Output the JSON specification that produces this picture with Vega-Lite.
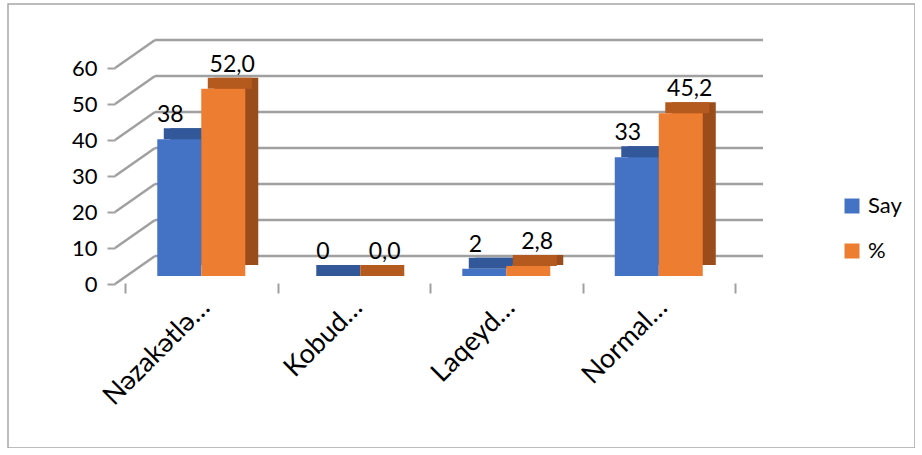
{
  "$schema": "https://vega.github.io/schema/vega-lite/v6.json",
  "width": 907,
  "height": 444,
  "autosize": {"type": "none"},
  "padding": {"left": 8, "top": 4, "right": 0, "bottom": 0},
  "background": "white",
  "config": {"view": {"stroke": "#a6a6a6", "strokeWidth": 1.5}, "font": "Lato"},
  "resolve": {"scale": {"xOffset": "independent"}},
  "datasets": {
    "main": [
      {"cat": "Nəzakətlə…", "series": "Say", "value": 38, "label": "38"},
      {"cat": "Nəzakətlə…", "series": "%", "value": 52.0, "label": "52,0"},
      {"cat": "Kobud…", "series": "Say", "value": 0, "label": "0"},
      {"cat": "Kobud…", "series": "%", "value": 0, "label": "0,0"},
      {"cat": "Laqeyd…", "series": "Say", "value": 2, "label": "2"},
      {"cat": "Laqeyd…", "series": "%", "value": 2.8, "label": "2,8"},
      {"cat": "Normal…", "series": "Say", "value": 33, "label": "33"},
      {"cat": "Normal…", "series": "%", "value": 45.2, "label": "45,2"}
    ],
    "grid": [{"v": 0}, {"v": 10}, {"v": 20}, {"v": 30}, {"v": 40}, {"v": 50}, {"v": 60}]
  },
  "layer": [
    {
      "data": {"name": "grid"},
      "mark": {"type": "rule", "color": "#a0a0a0", "strokeWidth": 2.5, "xOffset": 30, "x2Offset": 28, "yOffset": -20},
      "encoding": {
        "x": {"datum": "Nəzakətlə…", "type": "nominal", "bandPosition": 0},
        "x2": {"datum": "Normal…", "bandPosition": 1},
        "y": {"field": "v", "type": "quantitative"}
      }
    },
    {
      "data": {"name": "grid"},
      "mark": {"type": "rule", "color": "#a0a0a0", "strokeWidth": 2.5, "xOffset": -10, "x2Offset": 30, "yOffset": 8, "y2Offset": -20},
      "encoding": {
        "x": {"datum": "Nəzakətlə…", "type": "nominal", "bandPosition": 0},
        "x2": {"datum": "Nəzakətlə…", "bandPosition": 0},
        "y": {"field": "v", "type": "quantitative"},
        "y2": {"field": "v"}
      }
    },
    {
      "mark": {"type": "rule", "color": "#a0a0a0", "strokeWidth": 2.5, "xOffset": -10, "x2Offset": -10, "yOffset": 7},
      "encoding": {
        "x": {"datum": "Nəzakətlə…", "type": "nominal", "bandPosition": 0},
        "x2": {"datum": "Normal…", "bandPosition": 1},
        "y": {"datum": 0, "type": "quantitative"}
      }
    },
    {
      "mark": {"type": "rule", "color": "#a0a0a0", "strokeWidth": 2.5, "xOffset": -10, "x2Offset": 28, "yOffset": 7, "y2Offset": -20},
      "encoding": {
        "x": {"datum": "Normal…", "type": "nominal", "bandPosition": 1},
        "x2": {"datum": "Normal…", "bandPosition": 1},
        "y": {"datum": 0, "type": "quantitative"},
        "y2": {"datum": 0}
      }
    },
    {
      "mark": {"type": "rule", "color": "#a0a0a0", "strokeWidth": 2.5, "xOffset": -10, "yOffset": 7, "y2Offset": 9},
      "encoding": {
        "x": {"datum": "Nəzakətlə…", "type": "nominal", "bandPosition": 0},
        "y": {"datum": 0, "type": "quantitative"},
        "y2": {"datum": 60}
      }
    },
    {
      "data": {"name": "main"},
      "mark": {"type": "bar", "yOffset": -11, "y2Offset": -11},
      "encoding": {
        "x": {"field": "cat", "type": "nominal", "sort": null},
        "xOffset": {"field": "series", "type": "nominal", "scale": {"domain": ["Say", "%"], "paddingInner": 0, "paddingOuter": 0.733, "align": 0.7016}},
        "y": {"field": "value", "type": "quantitative"},
        "y2": {"datum": 0},
        "color": {"condition": {"test": "datum.series === 'Say'", "value": "#2d4f8c"}, "value": "#9a4d1b"}
      }
    },
    {
      "data": {"name": "main"},
      "mark": {"type": "bar", "yOffset": -11},
      "encoding": {
        "x": {"field": "cat", "type": "nominal", "sort": null},
        "xOffset": {"field": "series", "type": "nominal", "scale": {"domain": ["Say", "%"], "paddingInner": 0, "paddingOuter": 0.733, "align": 0.6008}},
        "y": {"field": "value", "type": "quantitative"},
        "y2": {"field": "value"},
        "color": {"condition": {"test": "datum.series === 'Say'", "value": "#325899"}, "value": "#b55a1f"}
      }
    },
    {
      "data": {"name": "main"},
      "mark": {"type": "bar"},
      "encoding": {
        "x": {
          "field": "cat", "type": "nominal", "sort": null,
          "scale": {"domain": ["Nəzakətlə…", "Kobud…", "Laqeyd…", "Normal…"], "paddingInner": 0, "paddingOuter": 0.9738, "align": 0.394},
          "axis": {"orient": "bottom", "offset": -165, "tickBand": "extent", "tickOffset": -10, "tickSize": 10, "tickColor": "#a0a0a0", "tickWidth": 2, "domain": false, "grid": false, "labelAngle": -45, "labelAlign": "right", "labelBaseline": "middle", "labelOffset": 4, "labelPadding": 10, "labelFontSize": 27, "labelFont": "Lato", "labelColor": "#000", "labelLimit": 0, "title": null}
        },
        "xOffset": {"field": "series", "type": "nominal", "scale": {"domain": ["Say", "%"], "paddingInner": 0, "paddingOuter": 0.733}},
        "y": {
          "field": "value", "type": "quantitative",
          "scale": {"domain": [-47.778, 75.556], "nice": false, "zero": false},
          "axis": {"values": [0, 10, 20, 30, 40, 50, 60], "offset": -107, "tickOffset": 8, "domain": false, "grid": false, "tickSize": 8, "tickColor": "#a0a0a0", "tickWidth": 2, "labelPadding": 10, "labelFont": "Lato", "labelFontSize": 22, "labelColor": "#000", "title": null}
        },
        "y2": {"datum": 0},
        "color": {
          "field": "series", "type": "nominal",
          "scale": {"domain": ["Say", "%"], "range": ["#4472C4", "#ED7D31"]},
          "legend": {"orient": "none", "legendX": 833, "legendY": 191, "title": null, "symbolType": "square", "symbolSize": 225, "symbolStrokeWidth": 0, "labelFontSize": 22, "labelFont": "Lato", "labelColor": "#000", "rowPadding": 23, "labelOffset": 5}
        }
      }
    },
    {
      "data": {"name": "main"},
      "mark": {"type": "text", "baseline": "alphabetic", "dy": -17, "fontSize": 23, "font": "Lato", "color": "#000"},
      "encoding": {
        "x": {"field": "cat", "type": "nominal", "sort": null},
        "xOffset": {"field": "series", "type": "nominal", "scale": {"domain": ["Say", "%"], "paddingInner": 0, "paddingOuter": 0.733}},
        "y": {"field": "value", "type": "quantitative"},
        "text": {"field": "label"}
      }
    }
  ]
}
